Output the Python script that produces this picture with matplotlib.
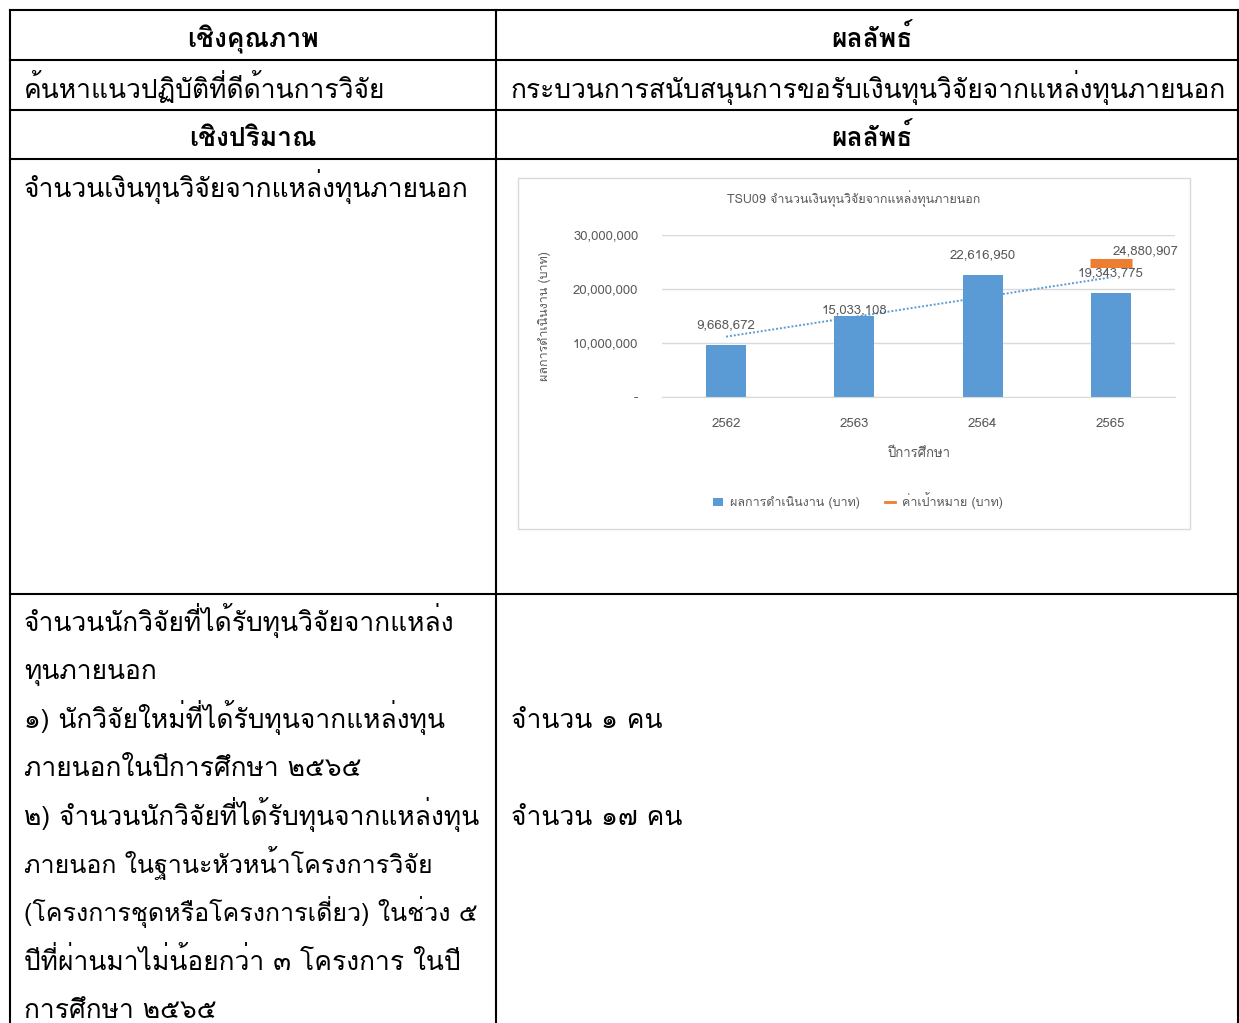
import numpy as np
import matplotlib
matplotlib.use("Agg")
import matplotlib.pyplot as plt
from matplotlib import font_manager
from matplotlib.ft2font import FT2Font
from matplotlib.lines import Line2D
from matplotlib.patches import Rectangle

# data
years = ["2562", "2563", "2564", "2565"]
result_baht = [9668672, 15033108, 22616950, 19343775]
target_year = "2565"
target_baht = 24880907
yticks = [0, 10000000, 20000000, 30000000]

title = "TSU09 จำนวนเงินทุนวิจัยจากแหล่งทุนภายนอก"
ylabel = "ผลการดำเนินงาน (บาท)"
xlabel = "ปีการศึกษา"
legend_labels = ["ผลการดำเนินงาน (บาท)", "ค่าเป้าหมาย (บาท)"]

left_lines = [
    "จำนวนนักวิจัยที่ได้รับทุนวิจัยจากแหล่ง",
    "ทุนภายนอก",
    "๑) นักวิจัยใหม่ที่ได้รับทุนจากแหล่งทุน",
    "ภายนอกในปีการศึกษา ๒๕๖๕",
    "๒) จำนวนนักวิจัยที่ได้รับทุนจากแหล่งทุน",
    "ภายนอก ในฐานะหัวหน้าโครงการวิจัย",
    "(โครงการชุดหรือโครงการเดี่ยว) ในช่วง ๕",
    "ปีที่ผ่านมาไม่น้อยกว่า ๓ โครงการ ในปี",
    "การศึกษา ๒๕๖๕",
]

# find a font with thai glyphs
def has_thai(path):
    try:
        return FT2Font(path).get_char_index(0x0E01) != 0
    except Exception:
        return False

thai_fonts = []
for fe in font_manager.fontManager.ttflist:
    if fe.name not in thai_fonts and has_thai(fe.fname):
        thai_fonts.append(fe.name)
plt.rcParams["font.family"] = thai_fonts + ["DejaVu Sans"]

W, H = 1239, 1023
fig = plt.figure(figsize=(W / 100, H / 100), dpi=100)
bg = fig.add_axes([0, 0, 1, 1])
bg.set_xlim(0, W)
bg.set_ylim(H, 0)
bg.axis("off")

# table grid
lw = 1.5
for y in [10, 60, 110, 159, 594]:
    bg.plot([10, 1238], [y, y], color="black", lw=lw)
for x in [10, 496, 1238]:
    bg.plot([x, x], [10, H], color="black", lw=lw)

fs = 19
bl = "baseline"
bg.text(253, 47, "เชิงคุณภาพ", ha="center", va=bl, fontsize=fs, fontweight="bold")
bg.text(872, 47, "ผลลัพธ์", ha="center", va=bl, fontsize=fs, fontweight="bold")
bg.text(24, 98, "ค้นหาแนวปฏิบัติที่ดีด้านการวิจัย", ha="left", va=bl, fontsize=fs)
bg.text(511, 98, "กระบวนการสนับสนุนการขอรับเงินทุนวิจัยจากแหล่งทุนภายนอก",
        ha="left", va=bl, fontsize=fs)
bg.text(253, 146, "เชิงปริมาณ", ha="center", va=bl, fontsize=fs, fontweight="bold")
bg.text(872, 146, "ผลลัพธ์", ha="center", va=bl, fontsize=fs, fontweight="bold")
bg.text(24, 197, "จำนวนเงินทุนวิจัยจากแหล่งทุนภายนอก", ha="left", va=bl, fontsize=fs)

for i, s in enumerate(left_lines):
    size = 18 if s.startswith("(") or s.startswith("ภายนอก ใน") else fs
    bg.text(24, 631 + i * 48.4, s, ha="left", va=bl, fontsize=size)
bg.text(511, 728, "จำนวน ๑ คน", ha="left", va=bl, fontsize=fs)
bg.text(511, 825, "จำนวน ๑๗ คน", ha="left", va=bl, fontsize=fs)

# chart frame
bg.add_patch(Rectangle((518, 178), 672, 351, fill=False, edgecolor="#d9d9d9", lw=1))

# chart axes
ax = fig.add_axes([662 / W, 1 - 397 / H, (1175 - 662) / W, (397 - 235) / H])
blue = "#5B9BD5"
orange = "#ED7D31"
grey = "#595959"
x = np.arange(len(years))
bars = ax.bar(x, result_baht, width=0.31, color=blue, zorder=2)

ti = years.index(target_year)
ax.plot([ti], [target_baht], marker="_", markersize=30, mew=6.5, color=orange,
        linestyle="none", zorder=3)

# linear trendline
k, b = np.polyfit(x, result_baht, 1)
ax.plot(x, k * x + b, color=blue, lw=1.4, linestyle=(0, (1, 1)), zorder=3)

ax.set_xlim(-0.5, len(years) - 0.5)
ax.set_ylim(0, 30000000)
ax.set_yticks(yticks)
ax.set_yticklabels(["-" if v == 0 else f"{v:,}" for v in yticks])
ax.set_xticks(x)
ax.set_xticklabels(years)
ax.tick_params(length=0, colors=grey, labelsize=9.5)
ax.tick_params(axis="y", pad=17)
ax.tick_params(axis="x", pad=15)
ax.grid(axis="y", color="#d9d9d9", lw=1, zorder=0)
for sp in ["top", "right", "left"]:
    ax.spines[sp].set_visible(False)
ax.spines["bottom"].set_color("#d9d9d9")

offsets = [(0, 10), (0, 0), (0, 10), (0, 10)]
for xi, v, off in zip(x, result_baht, offsets):
    ax.annotate(f"{v:,}", (xi, v), xytext=off, textcoords="offset points",
                ha="center", va="bottom", fontsize=9.5, color=grey)
ax.annotate(f"{target_baht:,}", (ti, target_baht), xytext=(25, 4),
            textcoords="offset points", ha="center", va="bottom", fontsize=9.5, color=grey)

ax.set_xlabel(xlabel, fontsize=9.5, color=grey, labelpad=13)
ax.set_ylabel(ylabel, fontsize=9, color=grey)
ax.yaxis.set_label_coords((551 - 662) / (1175 - 662), 0.5)

fig.text(854 / W, 1 - 199 / H, title, ha="center", va="center", fontsize=9, color=grey)

handles = [bars, Line2D([], [], color=orange, lw=2)]
fig.legend(handles, legend_labels, loc="center", bbox_to_anchor=(858 / W, 1 - 501 / H),
           ncol=2, frameon=False, fontsize=9, labelcolor=grey, handlelength=0.8,
           columnspacing=2, handletextpad=0.6)

fig.savefig("out.png", dpi=100)
